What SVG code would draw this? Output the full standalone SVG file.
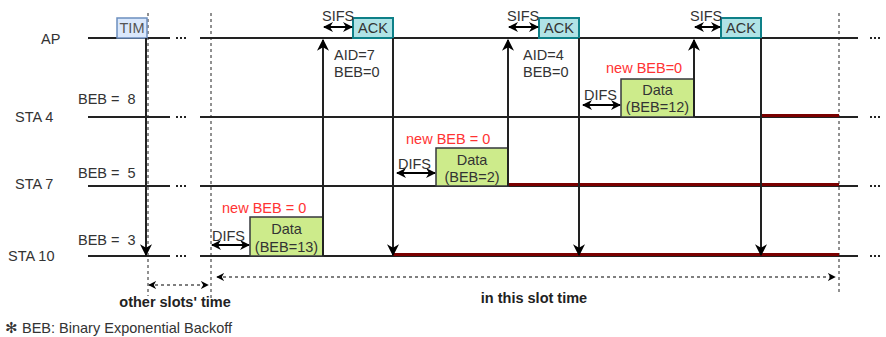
<svg xmlns="http://www.w3.org/2000/svg" width="886" height="337" viewBox="0 0 886 337">
  <defs>
    <marker id="arr" viewBox="0 0 10 10" refX="9" refY="5" markerWidth="10" markerHeight="10" markerUnits="userSpaceOnUse" orient="auto-start-reverse">
      <path d="M0,0 L10,5 L0,10 L3,5 z" fill="#000"/>
    </marker>
    <marker id="arrBig" viewBox="0 0 10 10" refX="9" refY="5" markerWidth="12" markerHeight="12" markerUnits="userSpaceOnUse" orient="auto-start-reverse">
      <path d="M0,0 L10,5 L0,10 L3,5 z" fill="#000"/>
    </marker>
    <marker id="arrDash" viewBox="0 0 10 10" refX="9" refY="5" markerWidth="8" markerHeight="8" markerUnits="userSpaceOnUse" orient="auto-start-reverse">
      <path d="M0,0 L10,5 L0,10 L3,5 z" fill="#000"/>
    </marker>
  </defs>
  <style>
    text { font-family: "Liberation Sans", Arial, sans-serif; font-size: 14.5px; fill: #333; white-space: pre; }
    .lbl { text-anchor: start; }
    .mid { text-anchor: middle; }
    .red { fill: #ff3333; }
    .bold { font-weight: bold; font-size: 14.5px; fill: #222; }
    .tl { stroke: #222; stroke-width: 2; fill: none; }
    .dots { stroke: #222; stroke-width: 2; stroke-dasharray: 2 2; fill: none; }
    .vdash { stroke: #222; stroke-width: 1; stroke-dasharray: 3 3; fill: none; }
    .busy { stroke: #7a0000; stroke-width: 3; fill: none; }
    .vline { stroke: #222; stroke-width: 2; fill: none; }
    .dbl { stroke: #000; stroke-width: 2; fill: none; marker-start: url(#arr); marker-end: url(#arr); }
    .tim { fill: #dae8fc; stroke: #6c8ebf; stroke-width: 1.5; }
    .ack { fill: #b0e3e6; stroke: #0e8088; stroke-width: 2; }
    .data { fill: #cdeb8b; stroke: #36393d; stroke-width: 1.5; }
  </style>
  <rect width="886" height="337" fill="#fff"/>

  <!-- slot boundaries -->
  <g id="slot-bounds">
    <line class="vdash" x1="148" y1="13" x2="148" y2="296"/>
    <line class="vdash" x1="211" y1="13" x2="211" y2="300"/>
    <line class="vdash" x1="839" y1="13" x2="839" y2="295"/>
  </g>

  <!-- timelines -->
  <g id="ap">
    <text class="lbl" x="41" y="44">AP</text>
    <line class="tl" x1="88" y1="38" x2="170" y2="38"/>
    <line class="dots" x1="176" y1="38" x2="188" y2="38"/>
    <line class="tl" x1="200" y1="38" x2="858" y2="38"/>
    <line class="dots" x1="870" y1="38" x2="882" y2="38"/>
  </g>
  <g id="sta4">
    <text class="lbl" x="15" y="122">STA 4</text>
    <text class="lbl" x="78" y="104" xml:space="preserve">BEB =  8</text>
    <line class="tl" x1="88" y1="117" x2="170" y2="117"/>
    <line class="dots" x1="176" y1="117" x2="188" y2="117"/>
    <line class="tl" x1="200" y1="117" x2="858" y2="117"/>
    <line class="dots" x1="870" y1="117" x2="882" y2="117"/>
    <line class="busy" x1="761" y1="115.5" x2="839" y2="115.5"/>
  </g>
  <g id="sta7">
    <text class="lbl" x="15" y="189">STA 7</text>
    <text class="lbl" x="78" y="178" xml:space="preserve">BEB =  5</text>
    <line class="tl" x1="88" y1="186" x2="170" y2="186"/>
    <line class="dots" x1="176" y1="186" x2="188" y2="186"/>
    <line class="tl" x1="200" y1="186" x2="858" y2="186"/>
    <line class="dots" x1="870" y1="186" x2="882" y2="186"/>
    <line class="busy" x1="509" y1="184.5" x2="839" y2="184.5"/>
  </g>
  <g id="sta10">
    <text class="lbl" x="8" y="261">STA 10</text>
    <text class="lbl" x="78" y="245" xml:space="preserve">BEB =  3</text>
    <line class="tl" x1="88" y1="256" x2="170" y2="256"/>
    <line class="dots" x1="176" y1="256" x2="188" y2="256"/>
    <line class="tl" x1="200" y1="256" x2="858" y2="256"/>
    <line class="dots" x1="870" y1="256" x2="882" y2="256"/>
    <line class="busy" x1="393" y1="254.5" x2="839" y2="254.5"/>
  </g>

  <!-- frames -->
  <g id="tim">
    <rect class="tim" x="117" y="18" width="30" height="20"/>
    <text x="132" y="33" class="mid" style="fill:#555">TIM</text>
  </g>

  <g id="data-sta10">
    <text class="red lbl" x="222" y="213">new BEB = 0</text>
    <rect class="data" x="250" y="217" width="73" height="39"/>
    <text class="mid" x="286.5" y="234">Data</text>
    <text class="mid" x="286.5" y="252">(BEB=13)</text>
  </g>
  <g id="ack-1">
    <rect class="ack" x="353" y="18" width="40" height="20"/>
    <text class="mid" x="373" y="33">ACK</text>
    <text class="lbl" x="334" y="60">AID=7</text>
    <text class="lbl" x="334" y="77">BEB=0</text>
  </g>

  <g id="data-sta7">
    <text class="red lbl" x="406" y="144">new BEB = 0</text>
    <rect class="data" x="436" y="148" width="72" height="38"/>
    <text class="mid" x="472" y="165">Data</text>
    <text class="mid" x="472" y="182">(BEB=2)</text>
  </g>
  <g id="ack-2">
    <rect class="ack" x="539" y="18" width="40" height="20"/>
    <text class="mid" x="559" y="33">ACK</text>
    <text class="lbl" x="523" y="60">AID=4</text>
    <text class="lbl" x="523" y="77">BEB=0</text>
  </g>

  <g id="data-sta4">
    <text class="red lbl" x="606" y="73">new BEB=0</text>
    <rect class="data" x="621" y="79" width="73" height="38"/>
    <text class="mid" x="657.5" y="95">Data</text>
    <text class="mid" x="657.5" y="112">(BEB=12)</text>
  </g>
  <g id="ack-3">
    <rect class="ack" x="721" y="18" width="40" height="20"/>
    <text class="mid" x="741" y="33">ACK</text>
  </g>

  <!-- connectors -->
  <g id="connectors">
    <!-- beacon TIM down to STA 10 -->
    <line class="vline" x1="146" y1="38" x2="146" y2="255" marker-end="url(#arrBig)"/>

    <!-- data frames up to AP -->
    <line class="vline" x1="323" y1="256" x2="323" y2="40" marker-end="url(#arrBig)"/>
    <line class="vline" x1="508" y1="186" x2="508" y2="40" marker-end="url(#arrBig)"/>
    <line class="vline" x1="694" y1="117" x2="694" y2="40" marker-end="url(#arrBig)"/>

    <!-- ACK down to STA 10 -->
    <line class="vline" x1="393" y1="38" x2="393" y2="255" marker-end="url(#arrBig)"/>
    <line class="vline" x1="579" y1="38" x2="579" y2="255" marker-end="url(#arrBig)"/>
    <line class="vline" x1="761" y1="38" x2="761" y2="255" marker-end="url(#arrBig)"/>

    <!-- SIFS gaps -->
    <line class="dbl" x1="324" y1="27" x2="352" y2="27"/>
    <line class="dbl" x1="509" y1="27" x2="538" y2="27"/>
    <line class="dbl" x1="695" y1="27" x2="720" y2="27"/>

    <!-- DIFS gaps -->
    <line class="dbl" x1="212" y1="245" x2="249" y2="245"/>
    <line class="dbl" x1="397" y1="173" x2="435" y2="173"/>
    <line class="dbl" x1="583" y1="105" x2="620" y2="105"/>

    <!-- slot spans -->
    <line x1="149" y1="285" x2="208" y2="285" stroke="#000" stroke-width="1.2" stroke-dasharray="3 3" marker-start="url(#arrDash)" marker-end="url(#arrDash)"/>
    <line x1="217" y1="277" x2="835" y2="277" stroke="#000" stroke-width="1.2" stroke-dasharray="3 3" marker-start="url(#arrDash)" marker-end="url(#arrDash)"/>
  </g>

  <!-- gap labels -->
  <g id="gap-labels">
    <text class="lbl" x="322" y="21">SIFS</text>
    <text class="lbl" x="507" y="21">SIFS</text>
    <text class="lbl" x="690" y="21">SIFS</text>
    <text class="lbl" x="212" y="241">DIFS</text>
    <text class="lbl" x="398" y="169">DIFS</text>
    <text class="lbl" x="584" y="100">DIFS</text>
  </g>

  <g id="span-labels">
    <text class="bold mid" x="175" y="307">other slots' time</text>
    <text class="bold mid" x="534" y="303">in this slot time</text>
  </g>

  <g id="note">
    <text x="5" y="333">✻ BEB: Binary Exponential Backoff</text>
  </g>
</svg>
